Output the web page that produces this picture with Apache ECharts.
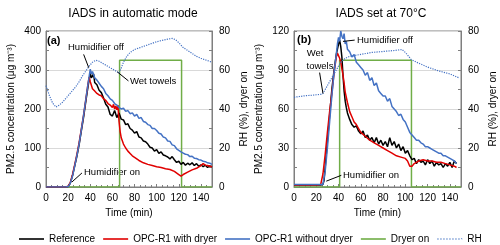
<!DOCTYPE html>
<html><head><meta charset="utf-8">
<script src="https://cdn.jsdelivr.net/npm/echarts@6/dist/echarts.min.js"></script>
<style>html,body{margin:0;padding:0;background:#fff}#c{width:500px;height:245px}</style>
</head><body><div id="c"></div>
<script>
// ---------- Panel (a): IADS in automatic mode ----------
const aRefT = [0,10,18,20,22,24,26,28,30,32,34,36,38,40,41,42,43,44,46,48,50,52,54,56,58,60,62,64,66,68,70,72,74,76,78,80,82,84,86,88,90,92,94,96,98,100,102,104,106,108,110,112,114,116,118,120,122,124,126,128,130,132,134,136,138,140,142,144,146,148,150];
const aRefV = [0,0,0,1,10,30,55,80,110,145,180,220,258,292,280,276,290,268,262,248,242,228,212,205,186,182,196,178,190,174,172,160,162,150,146,138,142,128,126,118,116,110,102,100,92,96,86,90,82,80,77,72,78,70,63,66,58,63,56,61,57,62,55,60,53,57,52,56,50,54,52];

const aDryT = [0,10,18,20,22,24,26,28,30,32,34,36,38,39,40,42,44,46,48,50,52,54,56,58,60,61,62,63,64,65,66,67,68,70,72,74,76,78,80,84,88,92,96,100,104,108,112,116,120,122,124,128,132,136,140,142,144,146,148,150];
const aDryV = [0,0,0,2,12,32,58,85,115,150,185,225,265,282,270,252,246,240,236,234,226,222,214,210,204,212,200,208,198,210,168,142,126,110,100,92,86,80,76,68,62,58,55,52,50,47,45,40,32,28,32,38,44,48,55,60,56,55,53,52];

const aNoDryT = [0,10,18,20,22,24,26,28,30,32,34,36,38,40,41,42,44,46,48,50,52,54,56,58,60,62,64,66,68,70,72,74,76,78,80,82,84,86,88,90,92,94,96,98,100,102,104,106,108,110,112,114,116,118,120,122,124,126,128,130,132,134,136,138,140,142,144,146,148,150];
const aNoDryV = [0,0,0,1,10,28,55,82,112,148,185,225,265,302,290,296,280,274,266,258,252,240,234,226,222,214,210,204,200,202,194,196,188,190,182,186,176,178,168,166,160,158,150,150,145,138,136,128,126,118,117,108,106,98,94,90,87,84,83,78,79,74,73,70,69,66,65,62,61,58];

const aRhT = [0,3,6,9,12,15,18,21,24,27,30,33,36,39,42,45,48,51,54,57,60,63,66,68,70,73,76,80,85,90,95,100,105,110,114,117,120,124,128,132,136,140,145,150];
const aRhV = [52,47,43,41,42,43.5,45.5,47.5,49.5,51.5,54,57,59.5,62,64,65,64.5,63.5,62.5,61.5,60.5,59.5,58.5,61,64,67,69,70.5,71.5,72.5,73.5,74.5,75.2,75.8,76.2,75.6,74,71.5,70,68.5,67,66,65,64];

const aDryerT = [0,66.5,66.5,122.5,122.5,150];
const aDryerV = [0,0,65,65,0,0];

// ---------- Panel (b): IADS set at 70°C ----------
const bRefT = [0,10,20,24,26,27,28,30,32,34,36,38,40,41,42,43,44,45,46,47,48,50,52,54,56,58,60,62,64,66,68,70,72,74,76,78,80,82,84,86,88,90,92,94,96,98,100,102,104,106,108,110,112,114,116,118,120,122,124,126,128,130,132,134,136,138,140,142,144,146];
const bRefV = [1.5,1.5,1.5,1.5,2,5,15,35,55,75,90,102,110,113,108,100,86,74,66,61,57,52,48,46,47,43,41,43,38,40,36,38,34,38,33,36,32,35,31,38,32,35,30,33,28,31,26,28,24,21,22,18,21,19,20,17,21,18,20,16,19,17,18,15,18,16,19,15,20,18];

const bDryT = [0,10,20,24,26,28,30,32,34,36,38,39,40,41,42,43,44,45,46,48,50,52,54,56,58,60,64,68,72,76,80,84,88,92,96,100,102,104,105,106,108,110,112,116,120,124,128,132,136,140,144,146];
const bDryV = [1.5,1.5,1.5,2,10,25,42,58,72,88,100,103,102,99,96,91,86,80,73,65,58,54,50,48,45,42,39,36,34,32,30,28,26,24,23,22,20,16,15,16,18,19,20,21,20,20,19,19,18,17,16,15];

const bNoDryT = [0,10,20,26,27,28,30,32,34,36,38,39,40,41,42,43,44,45,46,47,48,50,52,54,56,58,60,62,64,66,68,70,72,74,76,78,80,82,84,86,88,90,92,94,96,98,100,102,104,106,108,110,112,114,116,118,120,122,124,126,128,130,132,134,136,138,140,142,144,146];
const bNoDryV = [2,2,2,2,3,12,30,50,70,88,102,110,115,112,120,116,114,118,110,112,106,104,100,102,96,94,92,90,86,88,82,84,78,80,74,72,70,70,66,68,62,60,58,55,56,52,50,46,42,40,38,36,36,34,33,31,31,30,29,28,27,26,26,24,24,23,22,21,20,18];

const bRhT = [0,5,10,15,20,24,26,28,30,32,34,36,38,40,42,44,46,50,55,60,70,80,90,97,100,103,105,110,120,130,140,148];
const bRhV = [46,46.4,46.8,47,47.3,47.5,48,50,52,54,56,58,60,62,64,65,66,67,67.5,68,69,69.5,70,70.5,69,67,65.5,64,61.5,59.5,58,56];

const bDryerT = [0,41,41,105.5,105.5,150];
const bDryerV = [0,0,65,65,0,0];

// ---------- Text ----------
const titles = ['IADS in automatic mode','IADS set at 70°C'];
const xName = 'Time (min)';
const yLeftName = 'PM2.5 concentration (μg m⁻³)';
const yRightName = 'RH (%), dryer on';
const names = ['Reference','OPC-R1 with dryer','OPC-R1 without dryer','Dryer on','RH'];

const C = {ref:'#000000', dry:'#e00000', nodry:'#4472c4', dryer:'#70ad47', rh:'#4472c4'};
const FONT = 'Liberation Sans, Arial, sans-serif';

const zip = (t,v) => t.map((x,i)=>[x,v[i]]);

const chart = echarts.init(document.getElementById('c'), null, {renderer:'canvas'});

const grids = [
  {left:46, top:31, width:166, height:156},
  {left:294, top:31, width:167, height:156}
];
function xAx(i){
  return {gridIndex:i, type:'value', min:0, max:150, interval:20,
    name:xName, nameLocation:'middle', nameGap:21,
    nameTextStyle:{fontSize:10, color:'#000', fontFamily:FONT},
    axisLine:{show:true, lineStyle:{color:'#7f7f7f'}},
    axisTick:{show:true, inside:true, length:3, lineStyle:{color:'#7f7f7f'}},
    minorTick:{show:true, splitNumber:4, length:2, lineStyle:{color:'#7f7f7f'}},
    axisLabel:{fontSize:10, color:'#000', fontFamily:FONT, margin:6, showMaxLabel:false},
    splitLine:{show:false}};
}
function yLeft(i, max, interval){
  return {gridIndex:i, type:'value', min:0, max:max, interval:interval, position:'left',
    name:yLeftName, nameLocation:'middle', nameGap:30,
    nameTextStyle:{fontSize:10, color:'#000', fontFamily:FONT},
    axisLine:{show:true, lineStyle:{color:'#7f7f7f'}},
    axisTick:{show:true, inside:true, length:3, lineStyle:{color:'#7f7f7f'}},
    minorTick:{show:true, splitNumber:2, length:3, lineStyle:{color:'#7f7f7f'}},
    axisLabel:{fontSize:10, color:'#000', fontFamily:FONT, margin:5},
    splitLine:{show:true, lineStyle:{color:'#d9d9d9', width:1}}};
}
function yRight(i){
  return {gridIndex:i, type:'value', min:0, max:80, interval:20, position:'right',
    name:yRightName, nameLocation:'middle', nameGap:27, nameRotate:90,
    nameTextStyle:{fontSize:10, color:'#000', fontFamily:FONT},
    axisLine:{show:true, lineStyle:{color:'#7f7f7f'}},
    axisTick:{show:true, inside:true, length:3, lineStyle:{color:'#7f7f7f'}},
    minorTick:{show:true, splitNumber:2, length:3, lineStyle:{color:'#7f7f7f'}},
    axisLabel:{fontSize:10, color:'#000', fontFamily:FONT, margin:7},
    splitLine:{show:false}};
}
function line(name, xi, yi, data, color, extra){
  return Object.assign({name:name, type:'line', xAxisIndex:xi, yAxisIndex:yi, data:data,
    showSymbol:false, symbol:'none', animation:false, color:color,
    lineStyle:{color:color, width:1.5}}, extra||{});
}
const arrowStyle = {color:'#000', width:1, type:'solid'};
function arrows(list){
  return {symbol:['none','arrow'], symbolSize:[0,6], silent:true, animation:false,
    label:{show:false}, lineStyle:arrowStyle,
    data:list.map(a=>[{coord:a[0]},{coord:a[1]}])};
}

const series = [
  line(names[3],0,1,zip(aDryerT,aDryerV),C.dryer),
  line(names[0],0,0,zip(aRefT,aRefV),C.ref,{markLine:arrows([
    [[34,340],[38.6,306]],
    [[74.5,272],[64.5,295]],
    [[32.5,36],[23.5,13]]
  ])}),
  line(names[1],0,0,zip(aDryT,aDryV),C.dry),
  line(names[2],0,0,zip(aNoDryT,aNoDryV),C.nodry),
  line(names[4],0,1,zip(aRhT,aRhV),C.rh,{lineStyle:{color:C.rh,width:1.2,type:'dotted'}}),

  line(names[3],1,3,zip(bDryerT,bDryerV),C.dryer),
  line(names[0],1,2,zip(bRefT,bRefV),C.ref,{markLine:arrows([
    [[54.5,113],[44,112]],
    [[23,88],[26,72]],
    [[42.5,9],[29,4.5]]
  ])}),
  line(names[1],1,2,zip(bDryT,bDryV),C.dry),
  line(names[2],1,2,zip(bNoDryT,bNoDryV),C.nodry),
  line(names[4],1,3,zip(bRhT,bRhV),C.rh,{lineStyle:{color:C.rh,width:1.2,type:'dotted'}})
];

function txt(x,y,s,opt){
  return {type:'text', x:x, y:y, silent:true, style:Object.assign({text:s, fontSize:9.5, fontFamily:FONT, fill:'#000', textVerticalAlign:'middle', textAlign:'left'}, opt||{})};
}

const solidIcon = 'path://M0,0h25v1.6h-25z';
const dotIcon = 'path://M0,0.3h1.5v1h-1.5zM3,0.3h1.5v1h-1.5zM6,0.3h1.5v1h-1.5zM9,0.3h1.5v1h-1.5zM12,0.3h1.5v1h-1.5zM15,0.3h1.5v1h-1.5zM18,0.3h1.5v1h-1.5zM21,0.3h1.5v1h-1.5zM23.5,0h1.5v1.6h-0z';

chart.setOption({
  animation:false,
  backgroundColor:'#fff',
  title:[
    {text:titles[0], left:128, top:3, textAlign:'center', textStyle:{fontSize:12, fontWeight:'normal', color:'#000', fontFamily:FONT}},
    {text:titles[1], left:376, top:3, textAlign:'center', textStyle:{fontSize:12, fontWeight:'normal', color:'#000', fontFamily:FONT}}
  ],
  grid:grids.map(g=>Object.assign({show:true, borderColor:'#7f7f7f', borderWidth:1, backgroundColor:'transparent'}, g)),
  xAxis:[xAx(0), xAx(1)],
  yAxis:[yLeft(0,400,100), yRight(0), yLeft(1,120,30), yRight(1)],
  legend:{left:14, top:229, width:490, itemWidth:25, itemHeight:1.6, itemGap:8, symbolKeepAspect:false,
    textStyle:{fontSize:10, color:'#000', fontFamily:FONT}, selectedMode:false,
    data:[
      {name:names[0], icon:solidIcon},
      {name:names[1], icon:solidIcon},
      {name:names[2], icon:solidIcon},
      {name:names[3], icon:solidIcon},
      {name:names[4], icon:dotIcon}
    ]},
  graphic:[
    txt(47,41,'(a)',{fontWeight:'bold',fontSize:11}),
    txt(68,47,'Humidifier off'),
    txt(130,81,'Wet towels'),
    txt(84,172,'Humidifier on'),
    txt(297,40,'(b)',{fontWeight:'bold',fontSize:11}),
    txt(357,40,'Humidifier off'),
    txt(315,53,'Wet',{textAlign:'center'}),
    txt(320,66,'towels',{textAlign:'center'}),
    txt(343,175,'Humidifier on')
  ],
  series:series
});
</script></body></html>
